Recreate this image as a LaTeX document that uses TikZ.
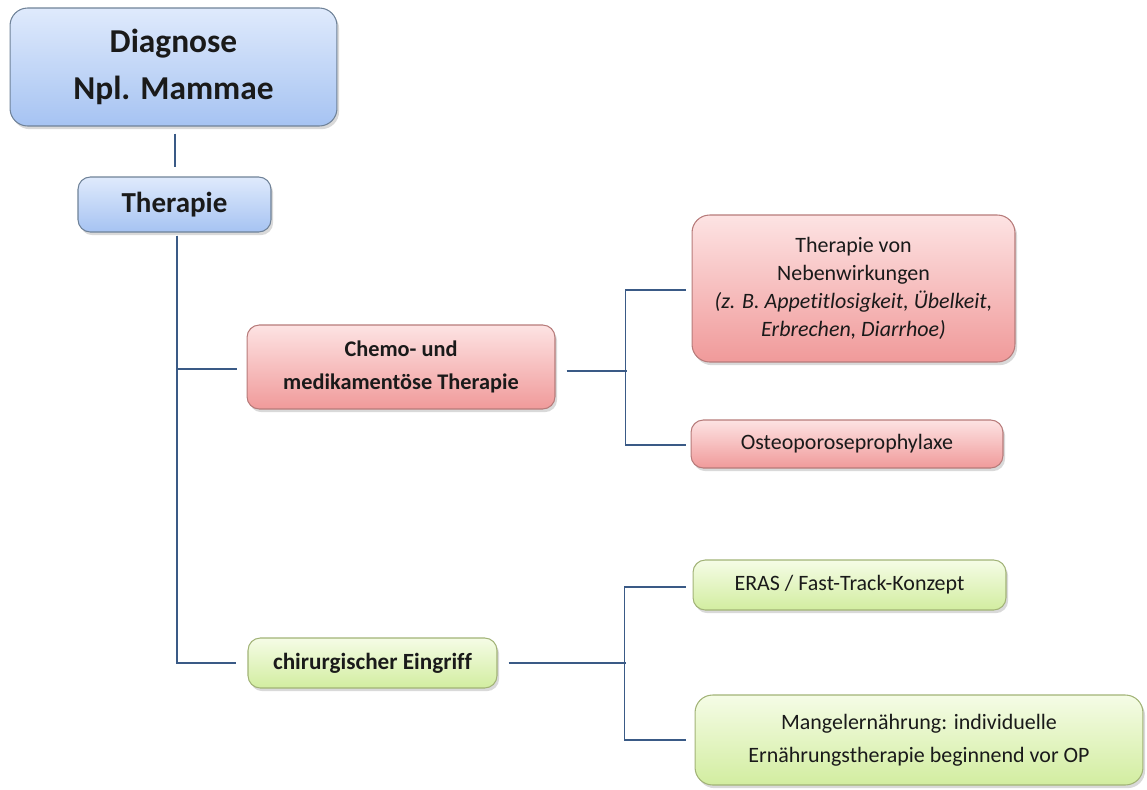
\documentclass[tikz,border=0pt]{standalone}
\usepackage{fontspec}
\setmainfont{Carlito}[Ligatures=NoCommon]
\usetikzlibrary{calc,shadows}
\definecolor{bluetop}{HTML}{DFEAFC}
\definecolor{bluebot}{HTML}{A6C3F2}
\definecolor{blueline}{HTML}{6F8298}
\definecolor{redtop}{HTML}{FDE3E3}
\definecolor{redbot}{HTML}{F09A9A}
\definecolor{redline}{HTML}{B77B7A}
\definecolor{greentop}{HTML}{F5FCE6}
\definecolor{greenbot}{HTML}{D2EDA0}
\definecolor{greenline}{HTML}{A2B377}
\definecolor{linkblue}{HTML}{3A5A86}
\definecolor{ink}{HTML}{1A1A1A}
\tikzset{
  box/.style={draw=#1, rounded corners=7pt, line width=0.6pt, align=center,
    text=ink, inner sep=2pt,
    drop shadow={opacity=0.3, shadow xshift=1.2pt, shadow yshift=-1.8pt}},
  bluebox/.style={box=blueline, top color=bluetop, bottom color=bluebot},
  redbox/.style={box=redline, top color=redtop, bottom color=redbot},
  greenbox/.style={box=greenline, top color=greentop, bottom color=greenbot},
  link/.style={draw=linkblue, line width=0.8pt},
}

\begin{document}
\begin{tikzpicture}[x=0.02cm, y=-0.02cm]
  \useasboundingbox (0,0) rectangle (1147,789);
  % boxes
  \node[bluebox, rounded corners=10pt, minimum width=6.54cm, minimum height=2.36cm,
    font=\bfseries\fontsize{19}{27}\selectfont] (diag) at (173.5,67) {Diagnose\\Npl. Mammae};
  \node[bluebox, minimum width=3.86cm, minimum height=1.1cm,
    font=\bfseries\fontsize{16.5}{19}\selectfont] (ther) at (174.5,204.5) {Therapie};
  \node[redbox, minimum width=6.16cm, minimum height=1.68cm,
    font=\bfseries\fontsize{12.7}{19}\selectfont] (chemo) at (401,367) {Chemo- und\\medikamentöse Therapie};
  \node[redbox, rounded corners=10pt, minimum width=6.46cm, minimum height=2.94cm,
    font=\fontsize{12.5}{16}\selectfont] (neben) at (853.5,288.5)
    {Therapie von\\Nebenwirkungen\\\textit{(z. B. Appetitlosigkeit, Übelkeit,}\\\textit{Erbrechen, Diarrhoe)}};
  \node[redbox, minimum width=6.24cm, minimum height=0.96cm,
    font=\fontsize{12.5}{15}\selectfont] (osteo) at (847,444) {Osteoporoseprophylaxe};
  \node[greenbox, minimum width=4.98cm, minimum height=1cm,
    font=\bfseries\fontsize{13.2}{15}\selectfont] (chir) at (372.5,663) {chirurgischer Eingriff};
  \node[greenbox, minimum width=6.26cm, minimum height=1cm,
    font=\fontsize{12.5}{15}\selectfont] (eras) at (849.5,585) {ERAS / Fast-Track-Konzept};
  \node[greenbox, rounded corners=10pt, minimum width=8.96cm, minimum height=1.8cm,
    font=\fontsize{12.5}{19}\selectfont] (mangel) at (919,740)
    {Mangelernährung: individuelle\\Ernährungstherapie beginnend vor OP};
  % connectors
  \draw[link] ($(diag.south)+(1.5,7)$) -- ++(0,33);
  \draw[link] ($(ther.south)+(2.5,3)$) |- ($(chemo.west)+(-10,2)$);
  \draw[link] ($(ther.south)+(2.5,3)$) |- ($(chir.west)+(-11,0)$);
  \draw[link] ($(chemo.east)+(11,4)$) -- ++(60,0);
  \draw[link] ($(neben.west)+(-6,1.5)$) -- ++(-60,0) |- ($(osteo.west)+(-5,1)$);
  \draw[link] ($(chir.east)+(11,0)$) -- ++(117,0);
  \draw[link] ($(eras.west)+(-7,2)$) -- ++(-61,0) |- ($(mangel.west)+(-9,0)$);
\end{tikzpicture}
\end{document}
